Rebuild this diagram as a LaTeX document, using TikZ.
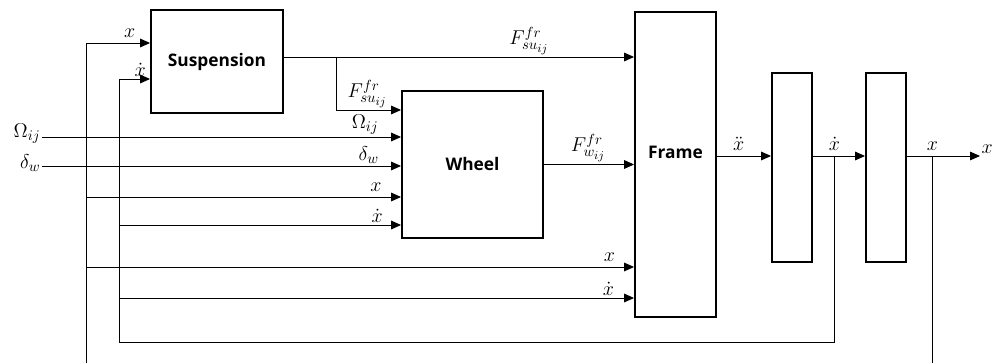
\RequirePackage{fix-cm}
\documentclass[tikz,border=0pt]{standalone}
\usepackage{fontspec}
\setsansfont{Open Sans}
\usepackage{tikz}
\usetikzlibrary{arrows.meta, positioning, calc}
\DeclareMathSizes{15}{15}{11}{9}

\begin{document}
\begin{tikzpicture}[
    x=0.75pt, y=-0.75pt,
    every node/.style={font=\fontsize{15}{18}\selectfont},
    blk/.style={rectangle, draw, line width=1.4pt, font=\sffamily\bfseries\fontsize{13}{15}\selectfont},
    arrow/.style={-{Triangle[length=7.5pt, width=6.5pt]}, line width=0.7pt},
    wire/.style={line width=0.7pt},
    lbl/.style={above, inner sep=1.5pt},
    xlbl/.style={lbl, yshift=2.5pt}
]
\useasboundingbox (0,0) rectangle (998,363);
\node[blk, minimum width=99pt, minimum height=77.25pt] (sus) at (217,61.5) {Suspension};
\node[blk, minimum width=105.75pt, minimum height=110.25pt] (whl) at (472.5,164.5) {Wheel};
\node[blk, minimum width=60.75pt, minimum height=228.75pt] (frm) at (675.5,164.5) {};
\node[font=\sffamily\bfseries\fontsize{13}{15}\selectfont] (frmlbl) at (675.5,152) {Frame};
\node[blk, minimum width=30pt, minimum height=141.75pt] (int1) at (792,167.5) {};
\node[blk, minimum width=30pt, minimum height=141.75pt] (int2) at (886,167.5) {};
\node[anchor=east, inner sep=1pt] (omg) at (42,134) {$\Omega_{ij}$};
\node[anchor=east, inner sep=1pt] (dlt) at (42,163) {$\delta_w$};
\coordinate (xbot) at (86,363);
\coordinate (vbot) at (119,342);
\coordinate (sx) at ($(sus.west)+(0,-18.5)$);
\coordinate (sv) at ($(sus.west)+(0,17.5)$);
\coordinate (wf) at ($(whl.west)+(0,-54.5)$);
\coordinate (wo) at ($(whl.west)+(0,-27.5)$);
\coordinate (wd) at ($(whl.west)+(0,1.5)$);
\coordinate (wx) at ($(whl.west)+(0,32.5)$);
\coordinate (wv) at ($(whl.west)+(0,60.5)$);
\coordinate (fs) at ($(frm.west)+(0,-107.5)$);
\coordinate (fx) at ($(frm.west)+(0,102.5)$);
\coordinate (fv) at ($(frm.west)+(0,133.5)$);
\coordinate (fo) at ($(frm.east)+(0,-8.5)$);
\coordinate (stap) at ($(sus.east)!0.445!(whl.west)$);
\coordinate (vtap) at ($(int1.east)!0.41!(int2.west)$);
\coordinate (xout) at (980,156);
\coordinate (xtap) at ($(int2.east)!0.35!(xout)$);
\draw[arrow] (xbot) |- node[xlbl, pos=0.84] {$x$} (sx);
\draw[arrow] (xbot |- wx) -- node[xlbl, pos=0.92] {$x$} (wx);
\draw[arrow] (xbot |- fx) -- node[xlbl, pos=0.955] {$x$} (fx);
\draw[arrow] (vtap |- fo) |- (vbot) |- node[lbl, pos=0.84] {$\dot{x}$} (sv);
\draw[arrow] (vbot |- wv) -- node[lbl, pos=0.915] {$\dot{x}$} (wv);
\draw[arrow] (vbot |- fv) -- node[lbl, pos=0.95] {$\dot{x}$} (fv);
\draw[arrow] (omg.east |- wo) -- node[lbl, pos=0.9] {$\Omega_{ij}$} (wo);
\draw[arrow] (dlt.east |- wd) -- node[lbl, pos=0.91] {$\delta_w$} (wd);
\draw[arrow] (sus.east |- fs) -- node[lbl, pos=0.7] {$F^{fr}_{su_{ij}}$} (fs);
\draw[arrow] (stap |- fs) |- node[lbl, pos=0.74] {$F^{fr}_{su_{ij}}$} (wf);
\draw[arrow] (whl.east) -- node[lbl, pos=0.49] {$F^{fr}_{w_{ij}}$} (whl.east -| frm.west);
\draw[arrow] (fo) -- node[xlbl, pos=0.4] {$\ddot{x}$} (fo -| int1.west);
\draw[arrow] (fo -| int1.east) -- node[xlbl, pos=0.41] {$\dot{x}$} (fo -| int2.west);
\draw[arrow] (fo -| int2.east) -- node[xlbl, pos=0.35] {$x$} (xout);
\draw[wire] (xtap |- fo) -- (xtap |- xbot);
\node[above right=1pt and 0pt of xout, inner sep=1pt] (xlbl) {$x$};
\end{tikzpicture}
\end{document}
